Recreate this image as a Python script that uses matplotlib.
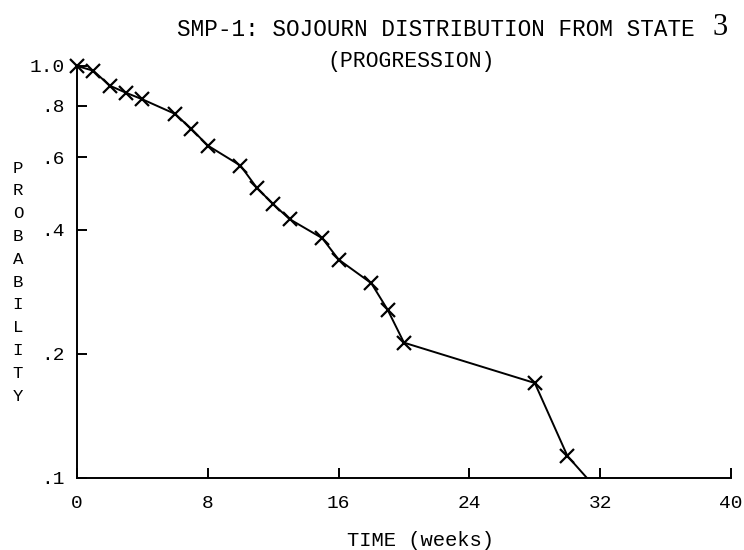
import matplotlib
matplotlib.use("Agg")
import matplotlib.pyplot as plt
import numpy as np

# sojourn distribution from state 3
weeks = [0, 1, 2, 3, 4, 6, 7, 8, 10, 11, 12, 13, 15, 16, 18, 19, 20, 28, 30, 32]
prob = [1.0, 0.974, 0.896, 0.861, 0.830, 0.765, 0.703, 0.641, 0.573, 0.506,
        0.462, 0.425, 0.382, 0.339, 0.297, 0.256, 0.213, 0.170, 0.113, 0.092]

x_ticks = [0, 8, 16, 24, 32, 40]
y_ticks = [0.1, 0.2, 0.4, 0.6, 0.8, 1.0]
y_tick_labels = [".1", ".2", ".4", ".6", ".8", "1.0"]

MONO = "Liberation Mono"

fig = plt.figure(figsize=(7.44, 5.5), dpi=100)
ax = fig.add_axes([0.1035, 0.131, 0.879, 0.749])

ax.plot(weeks, prob, color="black", linewidth=1.4)
w = np.array(weeks)
p = np.array(prob)
inside = p >= 0.1
ax.plot(w[inside], p[inside], linestyle="none", marker="x", markersize=10,
        markeredgewidth=1.6, color="black", clip_on=False)

ax.set_yscale("log")
ax.set_xlim(0, 40)
ax.set_ylim(0.1, 1.0)
ax.set_yticks(y_ticks)
ax.set_yticklabels(y_tick_labels)
ax.yaxis.set_minor_locator(matplotlib.ticker.NullLocator())
ax.set_xticks(x_ticks)
ax.set_xticklabels([str(t) for t in x_ticks])

for s in ["top", "right"]:
    ax.spines[s].set_visible(False)
for s in ["left", "bottom"]:
    ax.spines[s].set_linewidth(1.4)

ax.tick_params(axis="both", direction="in", length=7, width=1.4, labelsize=14)
ax.tick_params(axis="y", pad=9)
ax.tick_params(axis="x", pad=12)
for lab in ax.get_xticklabels() + ax.get_yticklabels():
    lab.set_family(MONO)

ax.set_xlabel("TIME (weeks)", family=MONO, fontsize=14.8, labelpad=13)
ax.xaxis.set_label_coords(0.526, -0.128)

fig.text(0.024, 0.487, "\n".join("PROBABILITY"), family=MONO, fontsize=12.5,
         ha="center", va="center", linespacing=1.65)

fig.text(0.238, 0.947, "SMP-1: SOJOURN DISTRIBUTION FROM STATE", family=MONO,
         fontsize=16.3, ha="left", va="center")
fig.text(0.958, 0.950, "3", family="Liberation Serif", fontsize=22,
         ha="left", va="center")
fig.text(0.553, 0.888, "(PROGRESSION)", family=MONO, fontsize=15.5,
         ha="center", va="center")

plt.savefig("out.png", dpi=100)
plt.close()
